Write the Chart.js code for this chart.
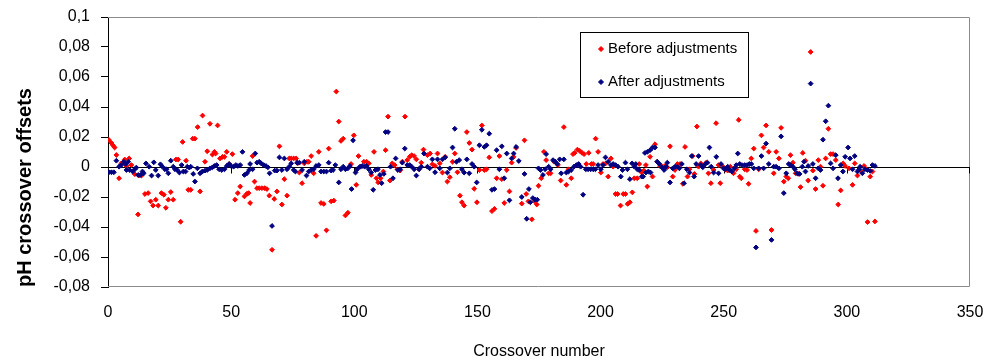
<!DOCTYPE html>
<html>
<head>
<meta charset="utf-8">
<script src="https://cdn.jsdelivr.net/npm/chart.js@4.4.1/dist/chart.umd.min.js"></script>
<style>
  html, body { margin: 0; padding: 0; background: #fff; }
  #myChart { display: block; }
</style>
</head>
<body>
<canvas id="myChart" width="983" height="361"></canvas>
<script>
// values (crossover number, pH offset)
const beforeX = [0.4,1.4,2.0,2.7,3.4,4.5,5.4,6.8,7.5,8.6,9.5,10.9,12.2,12.6,13.6,15.0,16.3,17.3,18.3,19.4,20.4,21.7,22.7,23.5,24.5,25.5,26.5,27.6,28.5,29.5,30.3,31.7,32.6,33.6,34.4,35.3,36.4,37.4,38.4,39.4,40.3,41.4,42.4,
  43.2,43.7,44.5,45.5,46.5,47.3,48.2,49.2,50.5,51.6,52.7,53.7,55.4,56.4,57.1,57.7,58.7,59.5,60.5,61.4,62.5,63.6,64.5,65.5,66.6,67.5,68.6,69.6,70.6,71.6,72.7,73.6,74.4,75.4,76.4,77.0,77.7,78.8,79.7,80.8,81.5,82.5,83.5,84.5,85.6,
  86.5,87.6,88.7,89.6,90.6,91.7,92.7,93.7,94.6,95.5,96.4,97.4,98.7,99.8,100.8,101.7,102.8,103.9,105.0,105.9,106.9,108.0,109.0,109.7,110.7,111.8,112.7,113.7,114.5,115.4,116.4,117.5,118.6,119.5,120.6,121.5,122.5,123.3,124.3,125.2,126.3,127.2,128.1,
  129.7,130.8,131.7,132.8,133.8,134.7,135.8,136.9,137.8,138.8,139.9,140.8,141.9,142.9,143.7,144.6,145.7,146.7,147.8,148.7,149.8,150.8,151.8,152.8,153.7,154.8,155.9,156.9,157.8,158.9,159.9,160.9,161.9,163.0,163.9,164.7,165.7,168.0,169.1,169.8,170.7,
  172.1,173.2,174.1,174.8,175.9,177.0,177.9,178.9,179.7,181.1,182.7,183.8,185.1,186.1,187.0,188.1,188.8,189.5,190.6,191.5,192.5,193.3,194.2,195.2,196.3,197.0,198.0,199.0,200.1,201.0,202.1,203.1,204.2,205.1,206.1,206.9,208.1,209.2,210.1,211.0,211.9,212.9,213.7,
  214.9,215.7,216.7,217.6,218.4,219.0,220.1,221.1,222.1,223.0,224.1,225.2,226.2,227.1,228.2,229.3,230.2,231.2,232.3,233.4,234.3,235.3,236.1,237.4,238.1,239.1,239.8,240.7,241.8,242.9,243.8,244.8,245.9,246.9,247.9,248.6,249.7,250.6,251.6,252.7,254.0,255.1,256.1,256.5,
  257.1,258.5,259.5,260.1,261.2,262.2,263.1,264.2,265.3,266.2,267.2,268.3,269.4,270.3,271.3,272.4,273.3,274.4,275.4,276.2,277.1,278.1,279.2,280.2,281.2,282.1,283.2,284.3,285.3,286.2,287.3,288.4,289.3,290.3,291.4,292.5,293.4,294.4,295.5,296.5,297.5,298.5,299.3,
  300.9,302.3,303.2,304.3,305.9,307.0,308.1,308.4,309.5,310.4,311.4];
const beforeY = [0.018,0.016,0.0145,0.013,0.008,-0.0075,0.0024,0.005,0.0007,0.0057,0.0013,-0.0048,-0.0316,-0.0057,-0.0057,-0.018,-0.0174,-0.0229,-0.0257,-0.0218,-0.0257,-0.0174,-0.0185,-0.0272,-0.0218,-0.0167,-0.0218,0.005,0.005,-0.0365,0.0167,0.0042,-0.0152,-0.0152,0.0189,0.0189,0.0266,-0.0163,0.0343,0.0035,0.0105,0.0288,0.0083,
  0.0101,0.009,0.0277,0.0057,0.0068,0.0068,0.0101,0.002,0.0086,-0.0218,-0.0174,-0.013,-0.0196,-0.0178,-0.0174,-0.024,0.0073,-0.0097,-0.0141,-0.0141,-0.0141,-0.0141,-0.0147,-0.0191,-0.0552,-0.0213,-0.0163,0.0138,-0.025,-0.0081,-0.0191,0.0057,0.0057,0.0057,0.0057,0.0024,-0.0037,-0.0108,0.0024,0.0035,0.0035,0.0073,-0.0042,-0.0459,0.0101,
  -0.024,-0.0246,-0.0422,0.0123,-0.0229,-0.0224,0.0503,0.0303,0.0174,0.0189,-0.0323,-0.0305,0.002,0.0211,-0.0119,0.0073,0.0002,0.0035,0.0035,0.0024,-0.0053,0.0101,-0.0075,-0.0103,-0.0075,-0.003,0.0112,0.0336,-0.009,0.0024,0.0013,-0.0015,-0.0024,0.0035,0.0336,0.0046,0.0068,0.0079,0.0073,0.0051,-0.0015,0.0029,0.0116,
  0.0079,0.009,0.0018,0.0007,0.009,0.0024,-0.0037,0.0068,-0.0097,-0.0068,0.0035,0.009,-0.0035,-0.0191,-0.0235,-0.0257,0.0233,0.016,0.0116,-0.0145,-0.0235,-0.002,0.0277,-0.002,-0.0015,0.0064,-0.0294,-0.0279,-0.0075,0.0073,-0.0081,-0.024,-0.002,-0.0163,0.0029,0.0068,0.0127,-0.0244,0.0178,-0.018,-0.0229,
  -0.0349,-0.0229,-0.025,-0.0125,-0.0075,0.0101,0.0046,-0.0042,-0.0042,0.0035,0.0013,-0.009,0.0266,-0.0119,-0.0015,-0.0075,0.0086,0.0094,0.0116,0.0108,0.0094,0.0086,0.002,0.0094,0.002,0.002,0.0189,0.0101,-0.0037,0.002,0.0024,-0.0064,0.0057,0.0002,-0.018,-0.018,-0.0257,-0.018,-0.018,-0.0246,-0.0235,-0.0169,-0.0075,
  -0.0075,0.002,-0.0037,-0.0024,0.0013,-0.013,0.0068,-0.0064,0.0152,0.0035,0.0007,0.0002,0.0007,-0.0002,0.0138,-0.0064,-0.002,0.002,0.002,-0.0112,0.0134,-0.0064,-0.0015,0.0073,-0.0046,0.027,0.0002,0.0024,0.0007,0.0029,-0.0042,-0.0108,-0.002,0.0292,0.0013,-0.0108,0.0002,-0.0015,-0.0024,0.0002,-0.0042,-0.0015,0.0314,-0.0064,
  -0.0075,-0.0015,-0.002,-0.0112,0.0057,0.0123,-0.0426,-0.0015,0.0211,0.013,0.0277,0.0101,-0.042,-0.0042,0.0101,0.0057,0.0261,-0.0097,-0.0064,-0.0075,0.0079,0.0029,-0.0042,-0.0046,-0.0134,0.0094,0.0042,-0.009,0.0767,-0.0024,-0.0147,0.0046,0.0002,-0.0125,0.0057,0.0255,0.0086,0.0086,0.0046,-0.025,-0.0156,0.0024,0.0007,
  -0.0009,-0.0119,0.0024,-0.0057,-0.003,0.0007,-0.0015,-0.0367,-0.0064,-0.003,-0.0363];

const afterX = [0.4,1.4,2.4,3.4,4.5,5.4,6.4,7.2,7.5,8.2,8.8,10.0,10.9,11.5,12.2,13.2,14.0,14.5,15.4,16.7,17.7,18.6,19.4,20.4,21.3,22.1,23.1,23.8,24.5,25.5,26.5,27.2,28.1,29.0,29.9,30.6,31.5,32.2,33.0,33.6,34.6,35.3,36.3,37.4,38.3,39.4,40.3,41.4,42.4,
  43.2,44.1,45.1,46.2,47.3,48.2,49.2,50.0,51.0,51.9,52.7,53.7,54.6,55.4,56.4,57.3,57.7,58.7,59.8,60.5,61.4,62.2,63.2,64.1,64.9,65.6,66.6,67.7,68.6,69.6,70.6,71.6,72.7,73.6,74.4,75.4,76.1,76.8,77.7,78.8,79.7,80.6,81.5,82.5,83.5,84.5,85.6,
  86.5,87.6,88.7,89.6,90.6,91.4,92.3,93.7,94.6,95.5,96.4,97.4,98.2,98.9,99.5,100.5,101.2,102.3,103.2,104.2,105.0,105.9,106.9,107.7,108.6,109.6,110.4,111.1,112.0,112.7,113.7,114.7,115.7,116.8,117.7,118.6,119.5,120.5,121.5,122.5,123.3,124.3,125.2,126.3,127.2,128.3,
  129.7,130.6,131.7,132.8,133.8,134.7,135.8,136.9,137.8,138.8,139.9,140.8,141.5,142.6,143.7,144.6,145.7,146.7,147.8,148.7,149.7,150.8,151.8,152.8,153.7,154.8,155.9,156.9,157.8,158.9,159.9,160.9,161.9,163.0,163.9,164.7,165.7,166.8,168.0,169.1,170.0,170.9,
  171.5,172.5,173.4,174.3,174.8,175.6,176.6,177.5,177.9,178.9,179.7,180.7,181.6,182.4,183.4,184.0,185.1,186.1,187.0,188.1,189.2,190.2,191.1,191.9,192.9,194.0,194.9,196.0,197.0,197.9,199.0,200.1,201.0,202.0,203.1,204.2,205.1,206.1,207.1,208.2,208.9,210.1,210.9,211.9,212.8,213.7,
  214.3,214.9,215.7,216.7,217.3,218.0,218.4,219.0,219.4,220.1,220.3,221.1,222.1,223.0,223.9,224.8,225.8,226.6,227.1,228.2,229.3,230.2,231.2,232.0,233.0,233.9,235.0,236.1,237.0,238.0,238.8,239.8,240.7,241.5,242.5,243.4,244.2,244.9,245.9,247.0,247.9,248.9,249.9,250.6,251.6,252.4,253.3,254.3,255.1,255.7,256.5,
  257.4,258.5,259.5,260.4,261.2,262.2,263.1,264.2,265.3,266.2,267.2,268.3,269.4,270.3,271.3,272.4,273.3,274.4,275.4,276.4,277.1,278.1,278.9,279.8,280.8,281.9,282.6,283.2,284.3,285.3,286.2,287.3,288.4,289.3,290.3,291.4,292.5,293.4,294.4,295.5,296.4,297.5,298.4,299.3,
  300.5,301.3,302.3,303.2,304.3,305.0,305.4,306.3,307.3,308.4,309.5,310.4,311.4];
const afterY = [-0.0035,-0.0035,-0.0035,0.0042,0.0002,0.0013,0.0035,0.002,-0.002,0.0035,-0.002,-0.003,-0.0015,-0.0004,-0.0053,-0.0053,-0.003,-0.0042,0.0024,0.0002,-0.0057,0.0031,-0.002,-0.0057,0.0018,0.0002,-0.0015,-0.0015,-0.0042,0.0042,0.0002,-0.0015,-0.002,-0.0037,0.0013,-0.003,-0.003,0.0002,-0.0004,0.0002,-0.0046,-0.0097,-0.0009,-0.0042,-0.003,-0.0024,-0.002,-0.0009,-0.0002,
  0.0007,0.0013,-0.0015,-0.002,-0.0015,0.0007,0.002,0.0007,0.0002,0.0013,0.0007,0.0013,0.0101,-0.0053,-0.0042,-0.002,0.002,-0.0015,0.009,0.0029,0.0035,0.0024,0.0013,0.0007,-0.0002,-0.0042,-0.0393,-0.0024,-0.0024,0.0064,-0.002,0.0057,-0.0015,0.0002,0.0024,-0.002,-0.003,0.0029,0.0029,-0.002,0.0035,-0.0057,-0.003,-0.002,-0.0015,0.0007,0.0013,
  -0.003,-0.003,-0.003,0.0029,-0.0024,-0.002,0.0013,-0.0103,-0.0015,0.0002,-0.0015,-0.0009,0.0007,-0.0147,0.0178,-0.0037,-0.0015,0.0002,0.0007,0.0002,0.0007,-0.0015,-0.0037,-0.0152,-0.002,-0.0015,-0.0053,-0.0108,-0.0046,0.0233,0.0233,0.0002,-0.0075,0.0057,-0.002,-0.0015,0.0029,0.0123,0.0013,0.0013,0.0002,-0.0015,-0.0057,-0.0015,0.0002,0.009,
  0.0002,-0.0009,0.0051,-0.0035,0.0051,-0.0009,0.0051,0.0064,-0.0037,-0.0009,0.013,0.0255,0.0035,0.0046,-0.0015,-0.0037,0.0051,-0.0042,0.002,0.0002,-0.0103,0.0145,0.0248,0.0134,0.0145,0.0222,-0.0152,-0.0147,0.0112,-0.0015,0.0138,-0.0075,0.009,-0.0222,0.0057,0.009,0.0134,0.004,-0.02,-0.0046,-0.0345,-0.0147,
  -0.0235,-0.0207,-0.0218,-0.0218,-0.0009,-0.002,-0.0053,-0.0015,0.0086,0.0002,-0.0015,0.0046,0.0035,0.002,0.0051,-0.0042,0.0051,-0.0037,-0.003,-0.002,0.0002,0.0013,0.002,0.0002,-0.0185,-0.0015,-0.0015,-0.0015,-0.0015,-0.0015,0.0013,-0.0015,0.0013,0.0064,0.0035,0.0013,0.002,0.0013,0.0002,-0.0064,-0.002,0.0029,-0.0015,-0.0081,0.0024,0.0002,
  0.002,-0.0015,-0.002,-0.0064,-0.0064,0.0094,-0.0037,0.0101,-0.003,0.0112,-0.0037,0.013,0.013,0.0035,0.002,-0.0002,-0.002,0.0002,0.0029,-0.0103,-0.0009,0.0002,0.0002,-0.0009,0.002,-0.0108,-0.0015,-0.0037,0.0073,-0.0064,0.002,0.0073,0.0013,-0.0002,0.002,0.0029,0.013,0.0002,-0.0037,0.0068,-0.0042,0.002,-0.0009,-0.0015,0.0002,-0.002,-0.003,-0.0009,0.0013,0.009,0.002,
  0.0013,0.0013,0.0013,0.002,0.002,-0.0009,-0.0536,-0.0009,0.0073,-0.0009,0.0156,0.002,-0.0486,0.0002,0.0002,-0.0009,0.0204,-0.0174,-0.0042,0.002,0.0013,0.0002,-0.0015,-0.0042,-0.0046,0.0002,0.0035,-0.003,0.0007,0.0556,0.002,-0.0075,-0.0009,-0.002,0.0182,0.0305,0.0409,0.0024,-0.0009,0.0079,-0.0075,0.0013,-0.003,0.0068,
  0.013,0.0057,-0.0015,0.0073,-0.003,-0.0015,0.0002,-0.0042,-0.0015,-0.002,-0.0026,0.0013,0.0007];

const seriesNames = ['Before adjustments', 'After adjustments'];
const seriesColors = ['#FF0000', '#000080'];
const xTitle = 'Crossover number';
const yTitle = 'pH crossover offsets';

const sans = "'Liberation Sans', Arial, sans-serif";
Chart.defaults.font.family = sans;
Chart.defaults.color = '#000';

function pts(xs, ys) {
  return xs.map(function (x, i) { return { x: x, y: ys[i] }; });
}

// grey plot frame + black zero line with its small tick marks
const frame = {
  id: 'frame',
  beforeDatasetsDraw(chart) {
    const ctx = chart.ctx, a = chart.chartArea;
    const xs = chart.scales.x, ys = chart.scales.y;
    ctx.save();
    ctx.lineWidth = 1;
    ctx.strokeStyle = '#8c8c8c';
    ctx.beginPath();
    ctx.moveTo(a.left, a.top + 0.5); ctx.lineTo(a.right - 0.5, a.top + 0.5);
    ctx.lineTo(a.right - 0.5, a.bottom - 0.5); ctx.lineTo(a.left, a.bottom - 0.5);
    ctx.stroke();
    const y0 = Math.round(ys.getPixelForValue(0)) + 0.5;
    ctx.strokeStyle = '#000';
    ctx.beginPath();
    ctx.moveTo(a.left, y0); ctx.lineTo(a.right, y0);
    xs.ticks.forEach(function (t) {
      const px = Math.min(Math.round(xs.getPixelForValue(t.value)), a.right - 1) + 0.5;
      ctx.moveTo(px, y0); ctx.lineTo(px, y0 + 6);
    });
    ctx.stroke();
    ctx.restore();
  }
};

// boxed legend inside the plot
const boxLegend = {
  id: 'boxLegend',
  afterDraw(chart) {
    const ctx = chart.ctx;
    ctx.save();
    ctx.fillStyle = '#fff';
    ctx.fillRect(580, 32, 168, 65);
    ctx.strokeStyle = '#000';
    ctx.lineWidth = 1;
    ctx.strokeRect(580.5, 32.5, 168, 65);
    ctx.font = '15px ' + sans;
    ctx.textBaseline = 'middle';
    chart.data.datasets.forEach(function (ds, i) {
      const y = 49 + i * 33;
      ctx.fillStyle = ds.backgroundColor;
      ctx.strokeStyle = ds.borderColor;
      Chart.helpers.drawPoint(ctx, { pointStyle: 'rectRot', radius: 2.5, borderWidth: 1 }, 601, y);
      ctx.fillStyle = '#000';
      ctx.fillText(ds.label, 608, y);
    });
    ctx.restore();
  }
};

new Chart(document.getElementById('myChart'), {
  type: 'scatter',
  data: {
    datasets: [{
      label: seriesNames[0],
      data: pts(beforeX, beforeY),
      backgroundColor: seriesColors[0],
      borderColor: seriesColors[0],
      order: 1
    }, {
      label: seriesNames[1],
      data: pts(afterX, afterY),
      backgroundColor: seriesColors[1],
      borderColor: seriesColors[1],
      order: 0
    }]
  },
  options: {
    responsive: false,
    animation: false,
    layout: { padding: { top: 17, right: 13, left: 0, bottom: 0 } },
    elements: { point: { pointStyle: 'rectRot', radius: 2.4, borderWidth: 1, hoverRadius: 2.4 } },
    plugins: { legend: { display: false }, tooltip: { enabled: false } },
    scales: {
      x: {
        type: 'linear',
        min: 0, max: 350,
        ticks: { stepSize: 50, padding: 16, font: { size: 16 }, maxRotation: 0 },
        grid: { display: false, drawTicks: false },
        border: { display: false },
        title: { display: true, text: xTitle, font: { size: 16 }, padding: { top: 0, bottom: 0 } },
        afterFit: function (s) { s.height = 74; s.paddingLeft = 0; s.paddingRight = 0; }
      },
      y: {
        min: -0.08, max: 0.1,
        ticks: {
          stepSize: 0.02, padding: 11, font: { size: 16 },
          callback: function (v) { return String(parseFloat(v.toFixed(2))).replace('.', ','); }
        },
        grid: { drawOnChartArea: false, drawTicks: true, tickLength: 7, color: '#000' },
        border: { color: '#000' },
        title: { display: true, text: yTitle, align: 'start', font: { size: 20, weight: 'bold' }, padding: { top: 13, bottom: 0 } },
        afterFit: function (s) { s.width = 108; s.paddingTop = 0; s.paddingBottom = 0; }
      }
    }
  },
  plugins: [frame, boxLegend]
});
</script>
</body>
</html>
